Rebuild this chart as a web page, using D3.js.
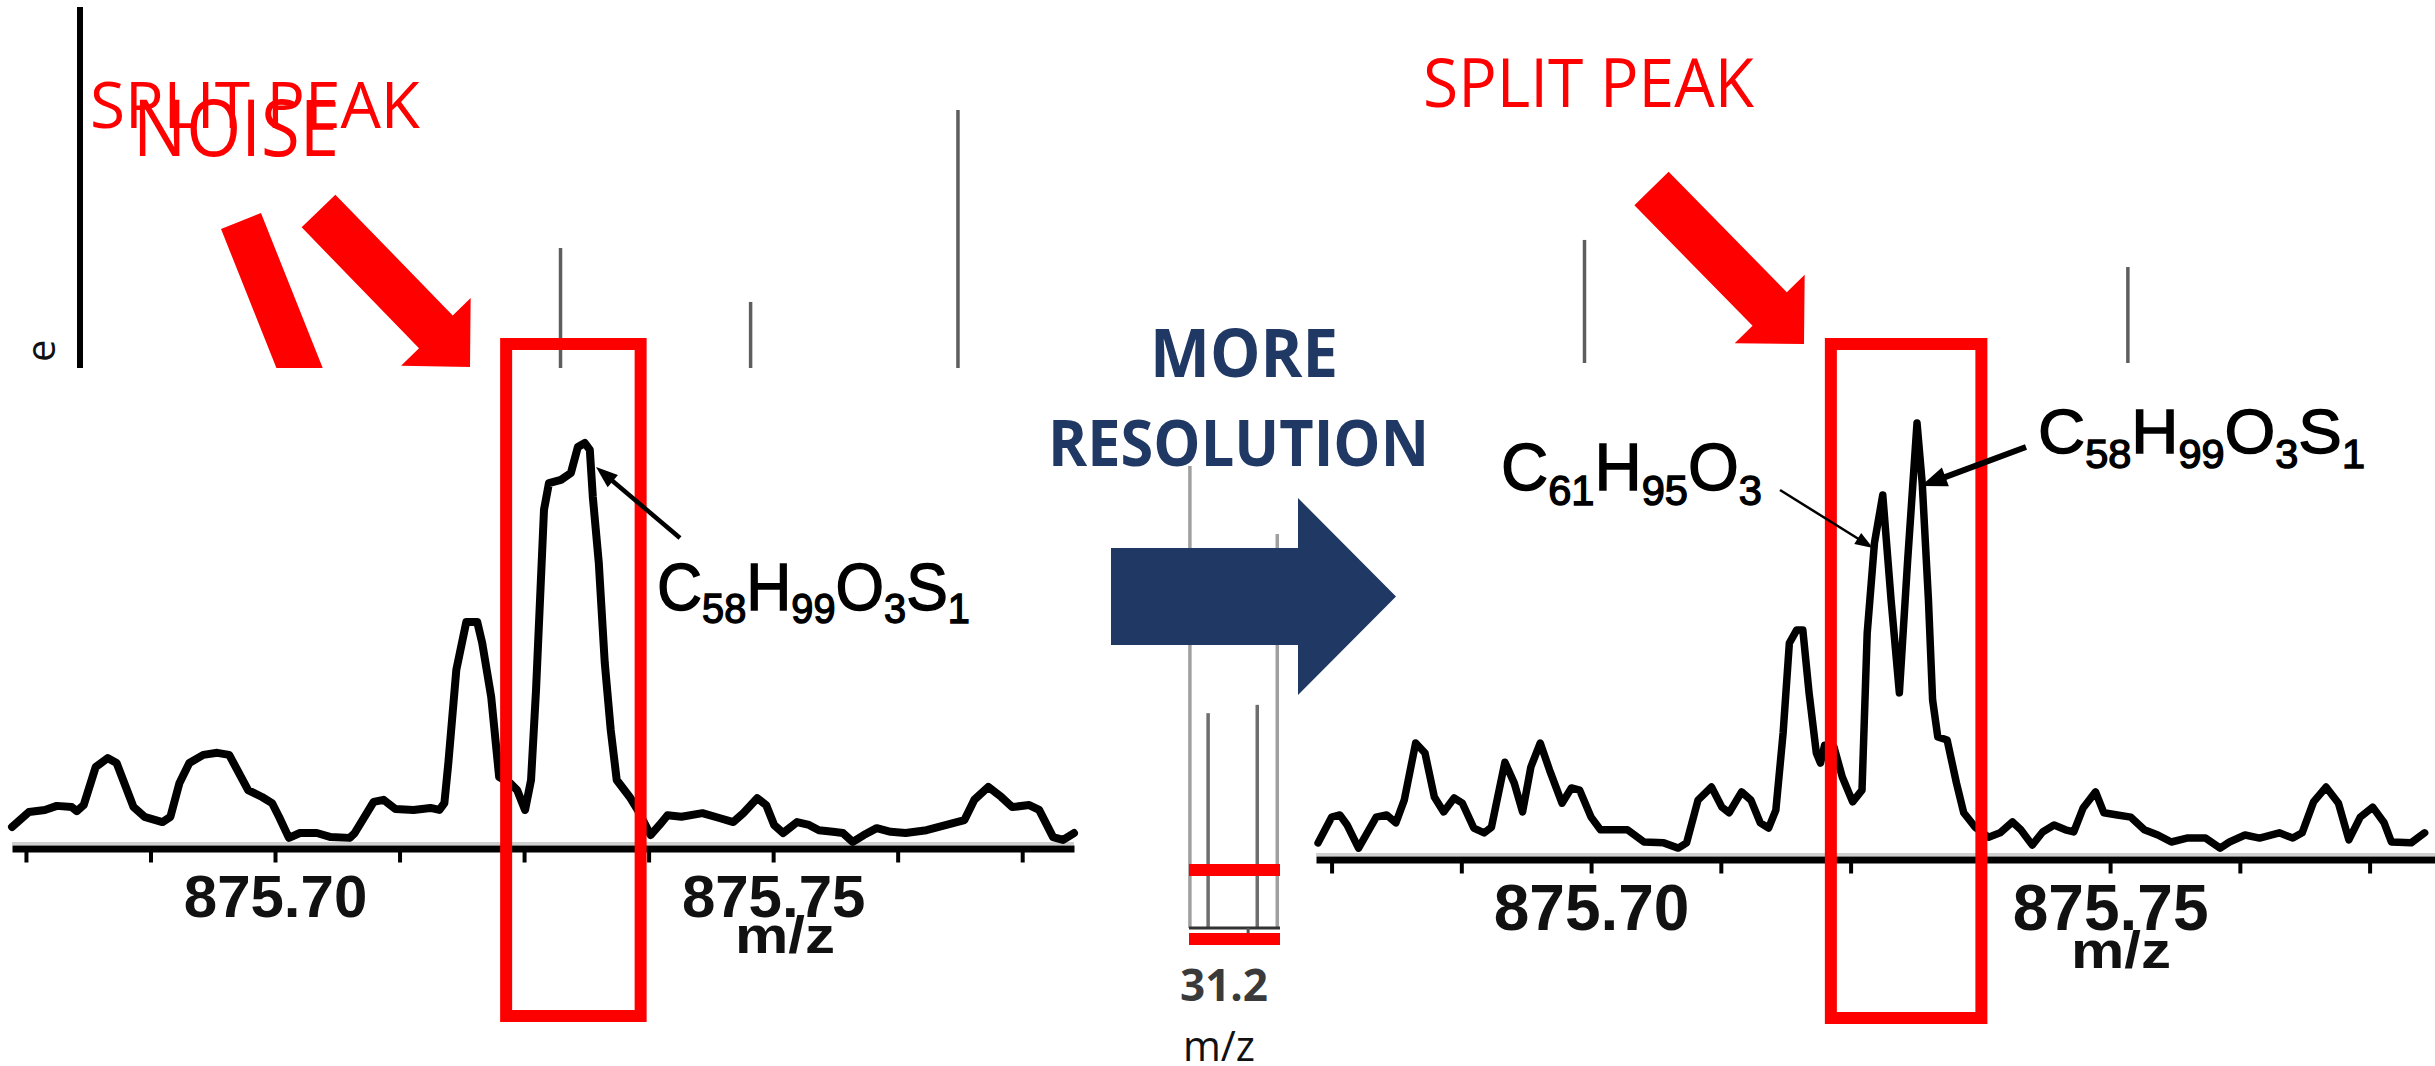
<!DOCTYPE html>
<html lang="en">
<head>
<meta charset="UTF-8">
<title>split peak - more resolution</title>
<style>
  body { margin: 0; background: #fff; }
  svg { display: block; }
</style>
</head>
<body>
<svg id="chart"></svg>
<script src="https://d3js.org/d3.v7.min.js"></script>
<script>
// ---- data ----
// low resolution spectrum (left)
const leftMz = [875.6736, 875.6753, 875.6769, 875.6781, 875.6796, 875.6801, 875.6808, 875.6820, 875.6832, 875.6841,
  875.6858, 875.6869, 875.6887, 875.6895, 875.6904, 875.6914, 875.6928, 875.6942, 875.6954, 875.6973,
  875.6987, 875.6997, 875.7004, 875.7014, 875.7025, 875.7042, 875.7056, 875.7075, 875.7080, 875.7099,
  875.7109, 875.7121, 875.7139, 875.7156, 875.7165, 875.7170, 875.7174, 875.7182, 875.7192, 875.7203,
  875.7208, 875.7217, 875.7225, 875.7236, 875.7243, 875.7251, 875.7257, 875.7262, 875.7266, 875.7270,
  875.7275, 875.7287, 875.7297, 875.7304, 875.7311, 875.7316, 875.7319, 875.7325, 875.7331, 875.7337,
  875.7343, 875.7356, 875.7364, 875.7377, 875.7386, 875.7394, 875.7408, 875.7429, 875.7446, 875.7460,
  875.7470, 875.7484, 875.7493, 875.7501, 875.7510, 875.7524, 875.7536, 875.7546, 875.7560, 875.7570,
  875.7580, 875.7591, 875.7604, 875.7618, 875.7633, 875.7654, 875.7674, 875.7692, 875.7702, 875.7716,
  875.7729, 875.7740, 875.7757, 875.7767, 875.7781, 875.7791, 875.7802];
const leftIntensity = [5.2, 8.9, 9.4, 10.4, 10.1, 9.1, 10.6, 20.0, 22.2, 21.0,
  10.1, 7.7, 6.4, 7.7, 16.0, 21.0, 23.0, 23.5, 23.0, 14.3,
  12.6, 11.1, 7.7, 2.5, 3.7, 3.7, 2.7, 2.5, 3.7, 11.4,
  11.9, 9.6, 9.4, 9.9, 9.4, 11.1, 21.0, 44.0, 55.8, 55.8,
  50.6, 37.3, 17.5, 16.0, 14.3, 9.4, 16.8, 39.0, 61.2, 83.5,
  90.1, 90.9, 92.6, 99.0, 100, 98.3, 86.7, 70.4, 45.7, 29.1,
  16.8, 12.6, 9.4, 3.2, 5.7, 8.1, 7.7, 8.6, 7.4, 6.4,
  8.6, 12.3, 10.6, 5.7, 3.7, 6.4, 5.7, 4.4, 4.0, 3.7,
  1.5, 3.2, 4.9, 4.0, 3.7, 4.4, 5.7, 6.9, 11.9, 15.1,
  12.6, 10.1, 10.6, 9.4, 2.7, 2.0, 3.7];

// higher resolution spectrum (right)
const rightMz = [875.6737, 875.6750, 875.6758, 875.6765, 875.6776, 875.6786, 875.6793, 875.6803, 875.6812, 875.6820,
  875.6831, 875.6840, 875.6849, 875.6858, 875.6868, 875.6876, 875.6887, 875.6897, 875.6904, 875.6917,
  875.6926, 875.6934, 875.6942, 875.6951, 875.6960, 875.6972, 875.6981, 875.6989, 875.7000, 875.7009,
  875.7021, 875.7035, 875.7051, 875.7070, 875.7084, 875.7092, 875.7103, 875.7116, 875.7126, 875.7133,
  875.7145, 875.7154, 875.7163, 875.7171, 875.7178, 875.7185, 875.7191, 875.7198, 875.7204, 875.7210,
  875.7217, 875.7221, 875.7225, 875.7234, 875.7242, 875.7252, 875.7261, 875.7266, 875.7273, 875.7281,
  875.7289, 875.7297, 875.7305, 875.7314, 875.7319, 875.7325, 875.7329, 875.7334, 875.7343, 875.7352,
  875.7359, 875.7370, 875.7383, 875.7394, 875.7406, 875.7414, 875.7425, 875.7435, 875.7446, 875.7457,
  875.7465, 875.7474, 875.7486, 875.7494, 875.7507, 875.7520, 875.7533, 875.7546, 875.7559, 875.7574,
  875.7592, 875.7606, 875.7615, 875.7630, 875.7644, 875.7663, 875.7676, 875.7685, 875.7696, 875.7708,
  875.7720, 875.7730, 875.7741, 875.7753, 875.7764, 875.7771, 875.7790, 875.7803];
const rightIntensity = [3.7, 9.6, 10.1, 7.8, 2.5, 6.7, 9.6, 10.1, 8.3, 13.5,
  26.6, 24.3, 14.2, 10.8, 14.0, 12.8, 7.1, 6.0, 7.3, 22.2,
  17.4, 10.8, 21.1, 26.6, 20.4, 12.8, 16.3, 15.8, 9.6, 6.7,
  6.7, 6.7, 3.9, 3.7, 2.5, 3.7, 13.5, 16.5, 11.9, 10.6,
  15.4, 13.5, 8.3, 7.1, 11.2, 28.9, 49.5, 52.5, 52.5, 38.1,
  24.3, 22.0, 26.1, 25.7, 18.8, 13.1, 15.8, 51.8, 72.5, 83.5,
  59.4, 38.1, 68.6, 100, 86.2, 59.4, 36.5, 28.0, 27.3, 17.4,
  10.6, 7.3, 5.0, 6.0, 8.5, 6.7, 3.2, 6.2, 7.8, 6.7,
  6.2, 11.7, 15.4, 10.6, 10.1, 9.6, 6.7, 5.5, 3.9, 4.8,
  4.8, 2.5, 3.9, 5.5, 4.8, 6.0, 4.8, 6.0, 13.1, 16.5,
  12.8, 4.4, 9.6, 11.9, 8.3, 3.9, 3.7, 6.0];

const leftDomain = [875.6736, 875.7802];
const rightDomain = [875.6735, 875.7813];
const tickValues = [875.675, 875.6875, 875.70, 875.7125, 875.725, 875.7375, 875.75, 875.7625, 875.775];
const labelValues = [875.70, 875.75];
const leftWindow = [875.7232, 875.7367];
const rightWindow = [875.7231, 875.7376];

const formulaS = ['C', '58', 'H', '99', 'O', '3', 'S', '1'];
const formulaO = ['C', '61', 'H', '95', 'O', '3'];

// faint sticks of the spectra behind (relative position, relative height)
const topLeftPos = [0.519, 0.695, 0.887];
const topLeftHeight = [46.5, 25.6, 100];
const topRightPos = [0.244, 0.727];
const topRightHeight = [47.7, 37.2];
const fragPos = [0.01, 0.21, 0.75, 0.97];
const fragHeight = [100, 46.5, 48.3, 85.3];

const RED = '#ff0000';
const NAVY = '#203864';
const NUM_FONT = '"Liberation Sans", Arial, sans-serif';
const SLIDE_FONT = '"Open Sans", "Noto Sans", sans-serif';

const W = 2435, H = 1066;
const svg = d3.select('#chart').attr('width', W).attr('height', H);

// block arrow polygon from tail centre to tip
function blockArrow(x1, y1, x2, y2, shaftW, headW, headL) {
    const len = Math.hypot(x2 - x1, y2 - y1);
    const ux = (x2 - x1) / len, uy = (y2 - y1) / len;
    const nx = -uy, ny = ux;
    const bx = x2 - ux * headL, by = y2 - uy * headL;
    const p = (x, y, s) => [x + nx * s, y + ny * s];
    return [p(x1, y1, shaftW / 2), p(bx, by, shaftW / 2), p(bx, by, headW / 2),
        [x2, y2], p(bx, by, -headW / 2), p(bx, by, -shaftW / 2), p(x1, y1, -shaftW / 2)];
}

function leader(g, x1, y1, x2, y2, w, headL, headW) {
    const len = Math.hypot(x2 - x1, y2 - y1);
    const ux = (x2 - x1) / len, uy = (y2 - y1) / len;
    g.append('line')
        .attr('x1', x1).attr('y1', y1)
        .attr('x2', x2 - ux * headL * 0.6).attr('y2', y2 - uy * headL * 0.6)
        .attr('stroke', '#000').attr('stroke-width', w);
    const bx = x2 - ux * headL, by = y2 - uy * headL;
    g.append('polygon')
        .attr('points', [[x2, y2], [bx - uy * headW / 2, by + ux * headW / 2], [bx + uy * headW / 2, by - ux * headW / 2]].join(' '))
        .attr('fill', '#000');
}

// stretch a text horizontally so it spans the given width
function fitWidth(t, x0, width) {
    const bw = t.node().getBBox().width;
    const sx = width / bw;
    t.attr('transform', `translate(${x0},0) scale(${sx},1) translate(${-x0},0)`);
}

function formula(g, tokens, x, baseline, size, subSize, subDy, width) {
    const t = g.append('text')
        .attr('x', x).attr('y', baseline)
        .attr('font-family', NUM_FONT)
        .attr('font-size', size)
        .attr('fill', '#000')
        .attr('stroke', '#000').attr('stroke-width', 1.4);
    tokens.forEach(tok => {
        const sub = /\d/.test(tok);
        t.append('tspan')
            .attr('y', sub ? baseline + subDy : baseline)
            .attr('font-size', sub ? subSize : size)
            .text(tok);
    });
    fitWidth(t, x, width);
}

// ---- faint spectra behind the slide ----
function sticks(pos, height, xr, yr, color, width) {
    const x = d3.scaleLinear().domain([0, 1]).range(xr);
    const y = d3.scaleLinear().domain([0, 100]).range(yr);
    svg.append('g').selectAll('line')
        .data(pos.map((p, i) => ({ p, h: height[i] })))
        .join('line')
        .attr('x1', d => x(d.p)).attr('x2', d => x(d.p))
        .attr('y1', y(0)).attr('y2', d => y(d.h))
        .attr('stroke', color).attr('stroke-width', width);
}
sticks(topLeftPos, topLeftHeight, [0, 1080], [368, 110], '#5e5e5e', 3.5);
sticks(topRightPos, topRightHeight, [1310, 2435], [363, 105], '#5e5e5e', 3.5);

// axis fragment of the top spectrum
svg.append('line')
    .attr('x1', 80).attr('x2', 80).attr('y1', 7).attr('y2', 368)
    .attr('stroke', '#000').attr('stroke-width', 6);
svg.append('text')
    .attr('transform', 'translate(55,362) rotate(-90)')
    .attr('font-family', SLIDE_FONT).attr('font-size', 40)
    .attr('fill', '#111')
    .text('e');

// ---- left red arrows and labels ----
const ann = svg.append('g');
ann.append('polygon')
    .attr('points', blockArrow(241, 221, 341, 472, 43, 96, 49).join(' '))
    .attr('fill', RED);
ann.append('polygon')
    .attr('points', blockArrow(318.5, 211, 470, 367, 47, 97, 49).join(' '))
    .attr('fill', RED);

// the lower spectrum image covers the arrow tails
svg.append('rect').attr('x', 0).attr('y', 368).attr('width', 1085).attr('height', H - 368).attr('fill', '#fff');

const txt = svg.append('g');
txt.append('text')
    .attr('x', 90).attr('y', 128)
    .attr('font-family', SLIDE_FONT).attr('font-size', 64)
    .attr('fill', RED)
    .attr('textLength', 330).attr('lengthAdjust', 'spacingAndGlyphs')
    .text('SPLIT PEAK');
txt.append('text')
    .attr('x', 133).attr('y', 156)
    .attr('font-family', SLIDE_FONT).attr('font-size', 78)
    .attr('fill', RED)
    .attr('textLength', 206).attr('lengthAdjust', 'spacingAndGlyphs')
    .text('NOISE');

// ---- spectra ----
function spectrum(cfg) {
    const g = svg.append('g');
    const x = d3.scaleLinear().domain(cfg.domain).range(cfg.xRange);
    const y = d3.scaleLinear().domain([0, 100]).range(cfg.yRange);
    const data = cfg.mz.map((m, i) => ({ mz: m, v: cfg.inten[i] }));

    // light grey rim above the axis line
    g.append('line')
        .attr('x1', cfg.xRange[0]).attr('x2', cfg.xRange[1])
        .attr('y1', cfg.axisY - 5).attr('y2', cfg.axisY - 5)
        .attr('stroke', '#cfcfcf').attr('stroke-width', 3);

    const axis = d3.axisBottom(x)
        .tickValues(tickValues)
        .tickSize(14)
        .tickSizeOuter(0)
        .tickPadding(cfg.pad)
        .tickFormat(d => labelValues.some(l => Math.abs(l - d) < 1e-9) ? d3.format('.2f')(d) : '');
    const ax = g.append('g')
        .attr('transform', `translate(0,${cfg.axisY})`)
        .call(axis);
    ax.select('.domain').attr('stroke', '#000').attr('stroke-width', 7);
    ax.selectAll('.tick line').attr('stroke', '#000').attr('stroke-width', 4);
    ax.selectAll('.tick text')
        .attr('font-family', NUM_FONT)
        .attr('font-weight', 'bold')
        .attr('font-size', cfg.labelSize)
        .attr('fill', '#111');

    g.append('text')
        .attr('x', cfg.mzLabel[0]).attr('y', cfg.mzLabel[1])
        .attr('text-anchor', 'middle')
        .attr('font-family', NUM_FONT).attr('font-weight', 'bold')
        .attr('font-size', 52).attr('fill', '#111')
        .attr('textLength', 100).attr('lengthAdjust', 'spacingAndGlyphs')
        .text('m/z');

    const line = d3.line().x(d => x(d.mz)).y(d => y(d.v));
    g.append('path')
        .datum(data)
        .attr('d', line)
        .attr('fill', 'none')
        .attr('stroke', '#000')
        .attr('stroke-width', cfg.lineW)
        .attr('stroke-linejoin', 'round')
        .attr('stroke-linecap', 'round');

    // red frame round the split peak
    g.append('rect')
        .attr('x', x(cfg.window[0])).attr('y', 344)
        .attr('width', x(cfg.window[1]) - x(cfg.window[0]))
        .attr('height', cfg.boxBottom - 344)
        .attr('fill', 'none')
        .attr('stroke', RED).attr('stroke-width', 12);
    return { g, x, y };
}

const left = spectrum({
    mz: leftMz, inten: leftIntensity, domain: leftDomain,
    xRange: [12, 1074], yRange: [848, 443], axisY: 848.5,
    pad: 12, labelSize: 60, lineW: 8, mzLabel: [785, 953],
    window: leftWindow, boxBottom: 1016
});
formula(left.g, formulaS, 657, 610, 66, 42, 13, 313);
leader(left.g, 680, 538, 596, 467, 4.5, 22, 16);

const right = spectrum({
    mz: rightMz, inten: rightIntensity, domain: rightDomain,
    xRange: [1316, 2435], yRange: [859, 423], axisY: 859.5,
    pad: 11, labelSize: 64, lineW: 7.5, mzLabel: [2121, 968],
    window: rightWindow, boxBottom: 1018
});
formula(right.g, formulaO, 1501, 490, 66, 42, 15, 261);
formula(right.g, formulaS, 2038, 453, 63, 40, 15, 327);
leader(right.g, 1780, 490, 1873, 548, 2.5, 18, 13);
leader(right.g, 2026, 447, 1921, 486, 6, 26, 20);

// ---- right red arrow and label ----
svg.append('polygon')
    .attr('points', blockArrow(1651.5, 188.5, 1804, 344, 48, 98, 49).join(' '))
    .attr('fill', RED);
svg.append('text')
    .attr('x', 1423).attr('y', 107)
    .attr('font-family', SLIDE_FONT).attr('font-size', 68)
    .attr('fill', RED)
    .attr('textLength', 331).attr('lengthAdjust', 'spacingAndGlyphs')
    .text('SPLIT PEAK');

// ---- centre fragment of another spectrum ----
const frag = svg.append('g');
const fx = d3.scaleLinear().domain([0, 1]).range([1189, 1280]);
const fy = d3.scaleLinear().domain([0, 100]).range([928, 466]);
frag.selectAll('line.stick')
    .data(fragPos.map((p, i) => ({ p, h: fragHeight[i], edge: i === 0 || i === fragPos.length - 1 })))
    .join('line')
    .attr('class', 'stick')
    .attr('x1', d => fx(d.p)).attr('x2', d => fx(d.p))
    .attr('y1', fy(0)).attr('y2', d => fy(d.h))
    .attr('stroke', d => d.edge ? '#a0a0a0' : '#6e6e6e')
    .attr('stroke-width', 3.5);
frag.append('line')
    .attr('x1', fx(0)).attr('x2', fx(1)).attr('y1', fy(0)).attr('y2', fy(0))
    .attr('stroke', '#333').attr('stroke-width', 3);
frag.append('line')
    .attr('x1', fx(0.65)).attr('x2', fx(0.65)).attr('y1', fy(0)).attr('y2', fy(0) + 14)
    .attr('stroke', '#555').attr('stroke-width', 3);
frag.selectAll('line.red')
    .data([870, 939])
    .join('line')
    .attr('class', 'red')
    .attr('x1', fx(0)).attr('x2', fx(1))
    .attr('y1', d => d).attr('y2', d => d)
    .attr('stroke', RED).attr('stroke-width', 12);
frag.append('text')
    .attr('x', 1224).attr('y', 1001)
    .attr('text-anchor', 'middle')
    .attr('font-family', SLIDE_FONT).attr('font-weight', 'bold')
    .attr('font-size', 44).attr('fill', '#3a3a3a')
    .text('31.2');
frag.append('text')
    .attr('x', 1219).attr('y', 1061)
    .attr('text-anchor', 'middle')
    .attr('font-family', SLIDE_FONT)
    .attr('font-size', 42).attr('fill', '#111')
    .attr('textLength', 72).attr('lengthAdjust', 'spacingAndGlyphs')
    .text('m/z');

// ---- MORE RESOLUTION arrow ----
svg.append('polygon')
    .attr('points', blockArrow(1111, 596.5, 1396, 596.5, 97, 197, 98).join(' '))
    .attr('fill', NAVY);
svg.append('text')
    .attr('x', 1244).attr('y', 377)
    .attr('text-anchor', 'middle')
    .attr('font-family', SLIDE_FONT).attr('font-weight', 'bold')
    .attr('font-size', 66).attr('fill', NAVY)
    .attr('textLength', 188).attr('lengthAdjust', 'spacingAndGlyphs')
    .text('MORE');
svg.append('text')
    .attr('x', 1238.5).attr('y', 466)
    .attr('text-anchor', 'middle')
    .attr('font-family', SLIDE_FONT).attr('font-weight', 'bold')
    .attr('font-size', 64).attr('fill', NAVY)
    .attr('textLength', 381).attr('lengthAdjust', 'spacingAndGlyphs')
    .text('RESOLUTION');
</script>
</body>
</html>
